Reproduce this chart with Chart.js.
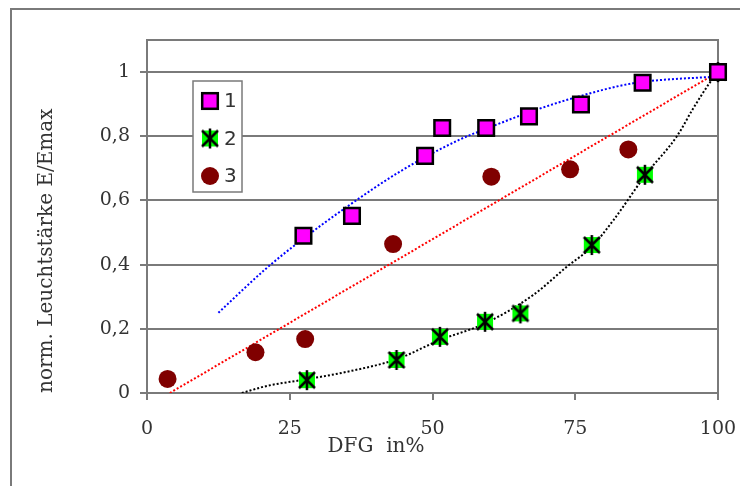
<!DOCTYPE html>
<html lang="de">
<head>
<meta charset="utf-8">
<title>norm. Leuchtstärke über DFG</title>
<script src="https://cdn.jsdelivr.net/npm/chart.js@4.4.1/dist/chart.umd.min.js"></script>
<style>
  html, body { margin: 0; padding: 0; background: #fff; }
  #wrap { position: relative; width: 740px; height: 486px; overflow: hidden; }
  #frame {
    position: absolute; left: 10px; top: 8px; width: 760px; height: 500px;
    border-top: 2px solid #7a7a7a; border-left: 2px solid #7a7a7a;
  }
  #chart { position: absolute; left: 0; top: 0; }
</style>
</head>
<body>
<div id="wrap">
  <div id="frame"></div>
  <canvas id="chart" width="740" height="486"></canvas>
</div>
<script>
/* ---- Achsen ---- */
const xTicks = [0, 25, 50, 75, 100];
const yTicks = [0, 0.2, 0.4, 0.6, 0.8, 1];
const legendLabels = ["1", "2", "3"];

/* ---- Messpunkte: [DFG %, E/Emax] ---- */
const series1 = [[27.4, 0.49], [35.9, 0.552], [48.7, 0.739], [51.7, 0.826], [59.4, 0.826],
                 [66.9, 0.862], [76.0, 0.899], [86.8, 0.967], [100, 1]];
const series2 = [[28.0, 0.04], [43.7, 0.103], [51.3, 0.175], [59.2, 0.222], [65.4, 0.248],
                 [77.9, 0.461], [87.2, 0.68], [100, 1]];
const series3 = [[3.6, 0.044], [19.0, 0.127], [27.7, 0.168], [43.1, 0.464], [60.3, 0.674],
                 [74.1, 0.697], [84.3, 0.759], [100, 1]];

/* ---- Trendlinien ---- */
const trend1 = [[12.5, 0.25], [21, 0.39], [27.3, 0.48], [35, 0.58], [44.3, 0.69], [54.8, 0.79],
                [59.5, 0.824], [67.1, 0.876], [75.8, 0.925], [85.1, 0.965], [96.8, 0.983], [100, 0.985]];
const trend2 = [[16.6, 0], [21, 0.022], [28, 0.043], [35, 0.066], [43.7, 0.105], [51.3, 0.165],
                [59.2, 0.217], [67.6, 0.305], [73.5, 0.393], [77.9, 0.456], [81.7, 0.539],
                [87.5, 0.684], [92.8, 0.8], [95.6, 0.885], [98.6, 0.968], [100, 1]];
const trend3 = [[4, 0], [100, 1]];

const colors = {
  magenta: "#FF00FF",
  green:   "#00FF00",
  darkRed: "#800000",
  blue:    "#0000FF",
  red:     "#FF0000",
  black:   "#000000",
  grid:    "#7a7a7a",
  text:    "#333333"
};

const toXY = arr => arr.map(p => ({ x: p[0], y: p[1] }));

// Stern-Marker: grünes Quadrat mit schwarzem Stern
function makeStarMarker() {
  const c = document.createElement("canvas");
  c.width = 22; c.height = 22;
  const g = c.getContext("2d");
  g.fillStyle = colors.green;
  g.fillRect(3, 3, 16, 16);
  g.strokeStyle = colors.black;
  g.lineWidth = 2.5;
  g.beginPath();
  g.moveTo(3, 3);  g.lineTo(19, 19);
  g.moveTo(19, 3); g.lineTo(3, 19);
  g.moveTo(11, 1); g.lineTo(11, 21);
  g.stroke();
  return c;
}
const starMarker = makeStarMarker();

function trendSet(data, color, smooth) {
  return {
    data: toXY(data),
    showLine: true,
    borderColor: color,
    borderWidth: 2,
    borderDash: [2, 2],
    pointRadius: 0,
    pointHoverRadius: 0,
    fill: false,
    cubicInterpolationMode: smooth ? "monotone" : "default",
    order: 1
  };
}

/* ---- Rahmen, x-Titel, Legende ---- */
const decorPlugin = {
  id: "decor",
  beforeDatasetsDraw(chart) {
    const { ctx, chartArea: a } = chart;
    ctx.save();
    ctx.strokeStyle = colors.grid;
    ctx.lineWidth = 2;
    ctx.strokeRect(a.left, a.top, a.right - a.left, a.bottom - a.top);
    ctx.restore();
  },
  afterDraw(chart) {
    const { ctx } = chart;
    ctx.save();

    // x-Achsentitel
    ctx.fillStyle = colors.text;
    ctx.font = "20px 'DejaVu Serif'";
    ctx.textAlign = "center";
    ctx.textBaseline = "middle";
    ctx.fillText("DFG  in%", 376, 447);

    // Legende
    const bx = 193, by = 81, bw = 49, bh = 111;
    ctx.fillStyle = "#fff";
    ctx.fillRect(bx, by, bw, bh);
    ctx.strokeStyle = colors.grid;
    ctx.lineWidth = 1.5;
    ctx.strokeRect(bx, by, bw, bh);

    const rows = [101, 138.5, 176];
    const mx = 210;

    ctx.fillStyle = colors.magenta;
    ctx.fillRect(mx - 7.8, rows[0] - 7.8, 15.6, 15.6);
    ctx.strokeStyle = colors.black;
    ctx.lineWidth = 2.5;
    ctx.strokeRect(mx - 7.8, rows[0] - 7.8, 15.6, 15.6);

    ctx.drawImage(starMarker, mx - 11, rows[1] - 11);

    ctx.fillStyle = colors.darkRed;
    ctx.beginPath();
    ctx.arc(mx, rows[2], 9, 0, Math.PI * 2);
    ctx.fill();

    ctx.fillStyle = colors.text;
    ctx.font = "20px 'DejaVu Sans'";
    ctx.textAlign = "left";
    legendLabels.forEach((t, i) => ctx.fillText(t, 224, rows[i] + 1));

    ctx.restore();
  }
};

new Chart(document.getElementById("chart"), {
  type: "scatter",
  data: {
    datasets: [
      {
        label: legendLabels[0],
        data: toXY(series1),
        pointStyle: "rect",
        pointRadius: 11,
        pointHoverRadius: 11,
        backgroundColor: colors.magenta,
        borderColor: colors.black,
        borderWidth: 2.5,
        clip: false,
        order: 0
      },
      {
        label: legendLabels[1],
        data: toXY(series2),
        pointStyle: starMarker,
        pointRadius: 11,
        clip: false,
        order: 0
      },
      {
        label: legendLabels[2],
        data: toXY(series3),
        pointStyle: "circle",
        pointRadius: 9,
        pointHoverRadius: 9,
        backgroundColor: colors.darkRed,
        borderColor: colors.darkRed,
        borderWidth: 0,
        clip: false,
        order: 0
      },
      trendSet(trend1, colors.blue, true),
      trendSet(trend2, colors.black, true),
      trendSet(trend3, colors.red, false)
    ]
  },
  options: {
    responsive: false,
    animation: false,
    events: [],
    layout: { padding: { top: 40, right: 22, bottom: 0, left: 0 } },
    plugins: {
      legend: { display: false },
      tooltip: { enabled: false }
    },
    scales: {
      x: {
        type: "linear",
        min: 0,
        max: 100,
        afterBuildTicks: s => { s.ticks = xTicks.map(v => ({ value: v })); },
        afterFit: s => { s.height = 93; s.paddingRight = 18; s.paddingLeft = 10; },
        grid: { drawOnChartArea: false, drawTicks: true, tickLength: 7, color: colors.grid, lineWidth: 2 },
        border: { display: true, color: colors.grid, width: 2 },
        ticks: {
          padding: 18,
          color: colors.text,
          font: { family: "'DejaVu Serif'", size: 19 },
          callback: v => String(v)
        }
      },
      y: {
        type: "linear",
        min: 0,
        max: 1.1,
        afterBuildTicks: s => { s.ticks = yTicks.map(v => ({ value: v })); },
        afterFit: s => { s.width = 147; },
        grid: { color: colors.grid, lineWidth: 2, tickLength: 7 },
        border: { display: true, color: colors.grid, width: 2 },
        ticks: {
          padding: 10,
          color: colors.text,
          font: { family: "'DejaVu Serif'", size: 19 },
          callback: v => String(v).replace(".", ",")
        },
        title: {
          display: true,
          text: "norm. Leuchtstärke E/Emax",
          align: "start",
          color: colors.text,
          font: { family: "'DejaVu Serif'", size: 20 },
          padding: { top: 35, bottom: 0 }
        }
      }
    }
  },
  plugins: [decorPlugin]
});
</script>
</body>
</html>
